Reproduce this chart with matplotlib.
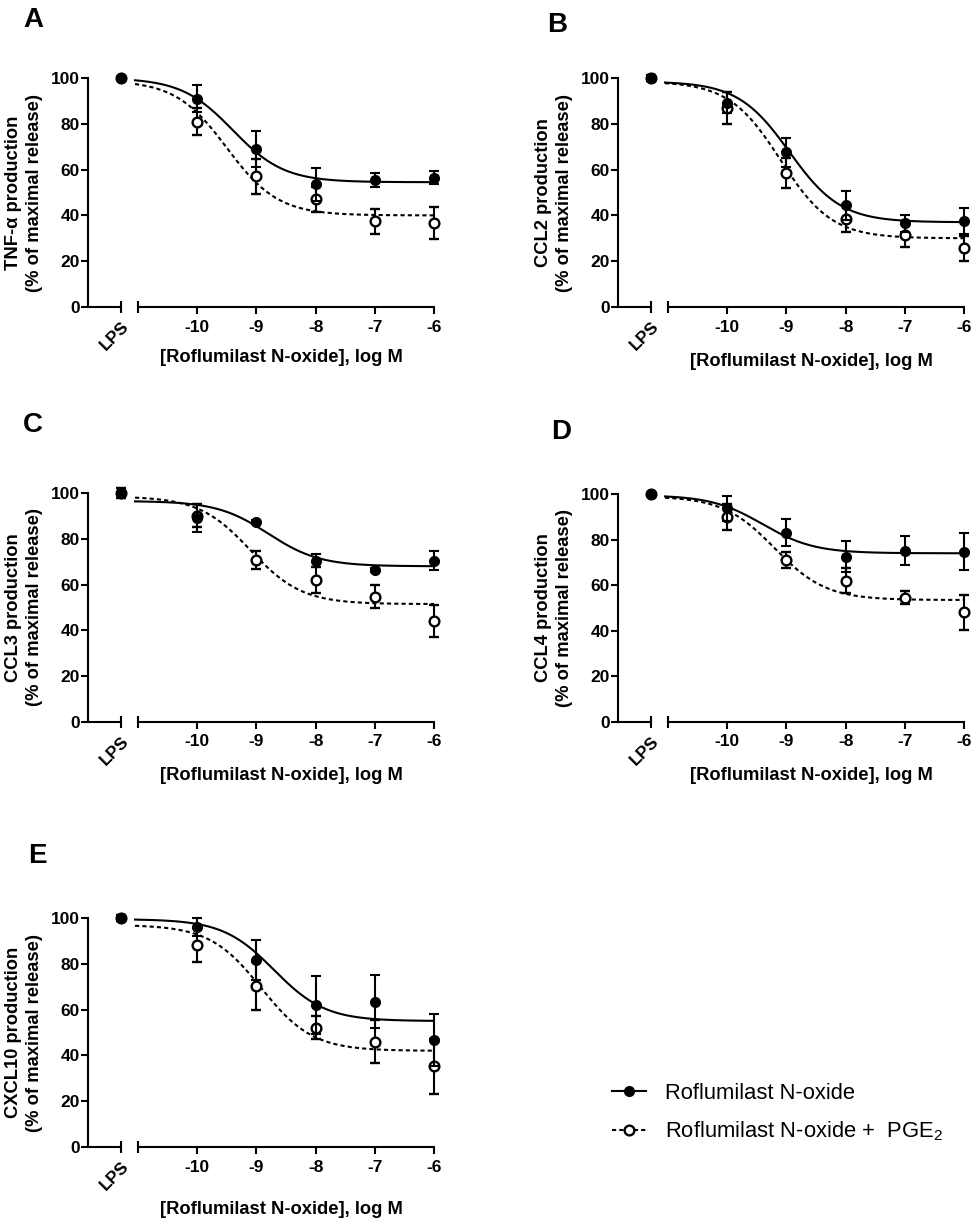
import numpy as np
import matplotlib
matplotlib.use('Agg')
import matplotlib.pyplot as plt
from matplotlib.lines import Line2D

plt.rcParams['font.family'] = ['Liberation Sans', 'DejaVu Sans']
plt.rcParams['axes.unicode_minus'] = False
plt.rcParams['mathtext.fontset'] = 'custom'
plt.rcParams['mathtext.rm'] = 'Liberation Sans'
plt.rcParams['mathtext.it'] = 'Liberation Sans:italic'
plt.rcParams['mathtext.bf'] = 'Liberation Sans:bold'

W, H = 976, 1223

# concentrations, log M
doses = [-10, -9, -8, -7, -6]

# means / SEM, % of maximal release (LPS value first)
tnf_rno = [100, 91, 69, 53.5, 55.5, 56.5]
tnf_rno_err = [0.5, 6, 8, 7, 3, 3]
tnf_pge = [100, 81, 57, 47, 37.5, 36.5]
tnf_pge_err = [0.5, 6, 7.5, 5.5, 5.5, 7]

ccl2_rno = [100, 89.3, 67.6, 44.4, 36.5, 37.6]
ccl2_rno_err = [1.5, 4.7, 6.4, 6.4, 3.8, 5.8]
ccl2_pge = [100, 86.7, 58.5, 38.6, 31.4, 25.6]
ccl2_pge_err = [1.5, 7, 6.4, 6, 5, 5.5]

ccl3_rno = [100, 89, 87.3, 70.5, 66.4, 70.5]
ccl3_rno_err = [2, 6, 1, 3, 1, 4]
ccl3_pge = [100, 90, 70.8, 62, 54.7, 44.1]
ccl3_pge_err = [2, 5, 4, 5.5, 5, 7]

ccl4_rno = [100, 93.7, 83, 72.5, 75.1, 74.7]
ccl4_rno_err = [0.5, 5.5, 6, 6.7, 6.4, 8.2]
ccl4_pge = [100, 90, 71, 62, 54.6, 48.2]
ccl4_pge_err = [0.5, 5.8, 3.5, 5.6, 2.7, 7.7]

cxcl10_rno = [100, 96.1, 81.8, 62, 63.5, 46.7]
cxcl10_rno_err = [1.5, 4, 8.7, 12.5, 11.7, 11.4]
cxcl10_pge = [100, 88.3, 70.4, 52.1, 46, 35.3]
cxcl10_pge_err = [1.5, 7.4, 10.5, 5, 9.5, 12]

# fitted sigmoid parameters: top, bottom, logIC50, hill
tnf_fit = [(100, 54.5, -9.4, 1), (99, 40, -9.5, 1)]
ccl2_fit = [(98.5, 37, -8.95, 1), (98.5, 30, -9.1, 1)]
ccl3_fit = [(96.5, 68, -8.8, 1), (98.5, 51.5, -9.1, 1)]
ccl4_fit = [(99.5, 74, -9.4, 1), (99, 53.5, -9.2, 1)]
cxcl10_fit = [(99.5, 55, -8.7, 1), (97, 42, -8.92, 1)]

panels = [
    ('A', 'TNF-α production', tnf_rno, tnf_rno_err, tnf_pge, tnf_pge_err, tnf_fit),
    ('B', 'CCL2 production', ccl2_rno, ccl2_rno_err, ccl2_pge, ccl2_pge_err, ccl2_fit),
    ('C', 'CCL3 production', ccl3_rno, ccl3_rno_err, ccl3_pge, ccl3_pge_err, ccl3_fit),
    ('D', 'CCL4 production', ccl4_rno, ccl4_rno_err, ccl4_pge, ccl4_pge_err, ccl4_fit),
    ('E', 'CXCL10 production', cxcl10_rno, cxcl10_rno_err, cxcl10_pge, cxcl10_pge_err, cxcl10_fit),
]

# pixel layout: y-axis x, top (100), bottom (0), letter pos, xlabel offset
layout = [
    (88, 78, 307, (23, 27), 50),
    (618, 78, 307, (547, 32), 55),
    (88, 493, 722, (23, 432), 53),
    (618, 494, 722, (551, 439), 53),
    (88, 918, 1147, (28, 863), 63),
]

LW = 1.5
TICKFS = 12.5
LABFS = 13.2


def px_axes(fig, x0, y_top, w, h):
    return fig.add_axes([x0 / W, 1 - (y_top + h) / H, w / W, h / H])


def draw_points(ax, x, y, err, filled):
    if filled:
        kw = dict(fmt='o', color='black', ms=7, mfc='black', mec='black', zorder=4)
    else:
        kw = dict(fmt='o', color='black', ms=7, mfc='white', mec='black', mew=1.7, zorder=3)
    ax.errorbar(x, y, yerr=err, elinewidth=LW, capsize=3.3, capthick=LW,
                clip_on=False, **kw)


def sigmoid(x, top, bottom, logic50, hill):
    return bottom + (top - bottom) / (1 + 10 ** ((x - logic50) * hill))


fig = plt.figure(figsize=(W / 100, H / 100), dpi=100)

for (letter, ylab, rno, rno_e, pge, pge_e, fit), (X, T, B, lpos, xoff) in zip(panels, layout):
    h = B - T
    axl = px_axes(fig, X, T, 33, h)
    axm = px_axes(fig, X + 50, T, 296, h)

    # LPS segment
    axl.set_xlim(0, 1)
    axl.set_ylim(0, 100)
    for s in ['top', 'right']:
        axl.spines[s].set_visible(False)
    for s in ['left', 'bottom']:
        axl.spines[s].set_linewidth(LW)
    axl.set_yticks([0, 20, 40, 60, 80, 100])
    axl.set_xticks([1])
    axl.set_xticklabels(['LPS'], rotation=45, ha='right', va='top',
                        rotation_mode='anchor', fontsize=TICKFS, fontweight='bold')
    axl.tick_params(axis='x', direction='inout', length=9, width=LW, pad=4)
    axl.tick_params(axis='y', direction='out', length=5, width=LW, pad=1,
                    labelsize=TICKFS)
    for t in axl.get_yticklabels():
        t.set_fontweight('bold')
    draw_points(axl, [1], [pge[0]], [pge_e[0]], False)
    draw_points(axl, [1], [rno[0]], [rno_e[0]], True)

    # log concentration segment
    axm.set_xlim(-11, -6)
    axm.set_ylim(0, 100)
    for s in ['top', 'right', 'left']:
        axm.spines[s].set_visible(False)
    axm.spines['bottom'].set_linewidth(LW)
    axm.set_yticks([])
    axm.set_xticks(doses)
    axm.set_xticks([-11], minor=True)
    axm.set_xticklabels([str(d) for d in doses], fontsize=TICKFS, fontweight='bold')
    axm.tick_params(axis='x', which='major', direction='out', length=5, width=LW, pad=4)
    axm.tick_params(axis='x', which='minor', direction='inout', length=9, width=LW)

    xs = np.linspace(-11.05, -6, 200)
    axm.plot(xs, sigmoid(xs, *fit[0]), color='black', lw=LW, clip_on=False, zorder=2)
    axm.plot(xs, sigmoid(xs, *fit[1]), color='black', lw=LW, dashes=(2, 1.5),
             clip_on=False, zorder=2)
    draw_points(axm, doses, pge[1:], pge_e[1:], False)
    draw_points(axm, doses, rno[1:], rno_e[1:], True)

    # labels
    fig.text((X - 64) / W, 1 - (T + B) / 2 / H, ylab + '\n(% of maximal release)',
             rotation=90, ha='center', va='center', multialignment='center',
             fontsize=LABFS, fontweight='bold', linespacing=1.25)
    fig.text((X + 50 + 143) / W, 1 - (B + xoff) / H, '[Roflumilast N-oxide], log M',
             ha='center', va='center', fontsize=LABFS, fontweight='bold')
    fig.text(lpos[0] / W, 1 - lpos[1] / H, letter, ha='left', va='baseline',
             fontsize=20, fontweight='bold')

handles = [
    Line2D([], [], color='black', lw=LW, marker='o', ms=7, mfc='black'),
    Line2D([], [], color='black', lw=LW, dashes=(2, 1.5), marker='o', ms=7,
           mfc='white', mew=1.7),
]
fig.legend(handles, ['Roflumilast N-oxide', 'Roflumilast N-oxide +  PGE$_2$'],
           loc='center left', bbox_to_anchor=(612 / W, 1 - 1113 / H),
           frameon=False, fontsize=15.8, handlelength=1.55, handletextpad=0.86,
           labelspacing=0.7, borderpad=0, borderaxespad=0)

fig.savefig('out.png', dpi=100)
